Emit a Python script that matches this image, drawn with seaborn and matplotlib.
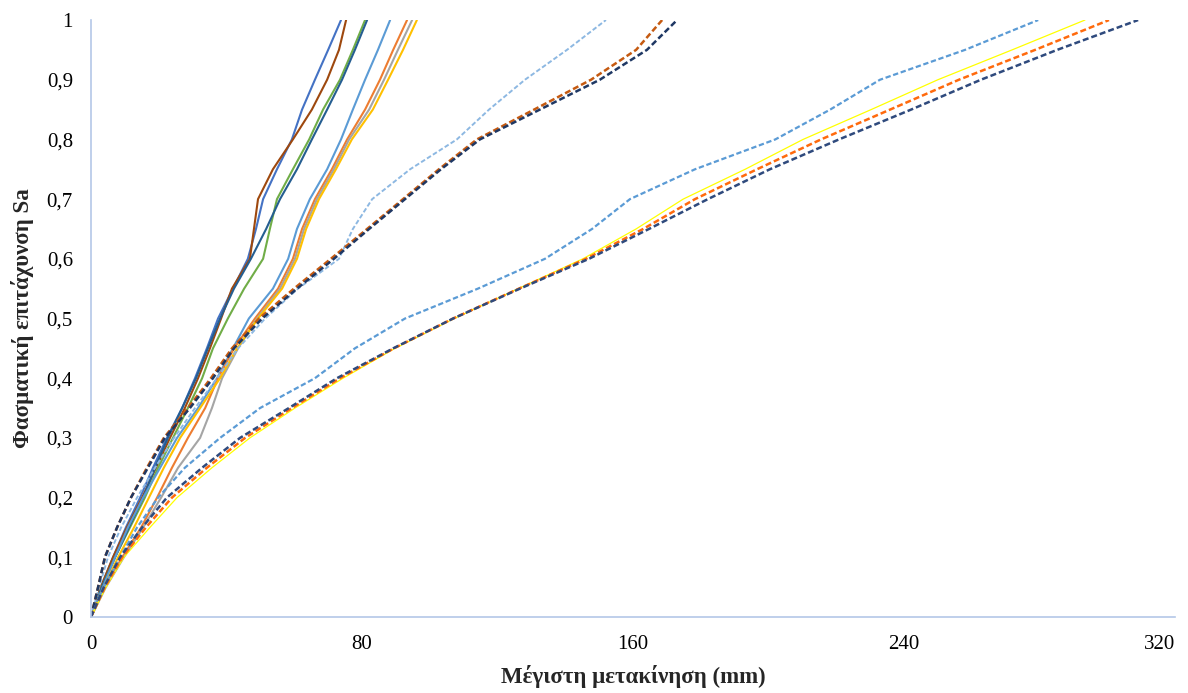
import numpy as np
import pandas as pd
import matplotlib
matplotlib.use("Agg")
import matplotlib.pyplot as plt
import matplotlib.transforms as mtransforms
from matplotlib.ticker import FixedLocator, FuncFormatter
import seaborn as sns

# Spectral acceleration levels (g) shared by every pushover / IDA curve
sa = [0.00, 0.05, 0.10, 0.15, 0.20, 0.25, 0.30, 0.35, 0.40, 0.45, 0.50,
      0.55, 0.60, 0.65, 0.70, 0.75, 0.80, 0.85, 0.90, 0.95, 1.00]

# Maximum displacement (mm) for each curve at the Sa levels above
disp_blue = [0, 2.9, 6.5, 10.3, 14.5, 18.3, 22.4, 26.9, 30.7, 34.2, 37.5,
             41.9, 46.3, 48.7, 50.8, 54.9, 59.3, 62.3, 66.1, 70.0, 73.8]
disp_brown = [0, 2.9, 6.5, 10.6, 15.1, 19.2, 23.3, 27.7, 31.6, 35.1, 38.4,
              41.6, 46.9, 48.1, 49.3, 53.7, 59.6, 65.2, 69.7, 73.2, 75.3]
disp_green = [0, 3.2, 7.1, 11.5, 15.9, 19.8, 24.2, 28.6, 32.8, 36.0, 40.4,
              45.2, 50.8, 52.8, 54.9, 59.6, 64.4, 68.5, 73.5, 77.3, 80.9]
disp_darkblue = [0, 3.2, 7.1, 11.2, 15.4, 18.9, 22.7, 26.9, 31.0, 34.5, 38.1,
                 42.2, 47.2, 51.7, 55.8, 60.8, 65.2, 69.7, 74.1, 77.9, 81.5]
disp_lightblue = [0, 3.5, 7.1, 10.9, 15.4, 20.4, 25.4, 31.6, 37.2, 41.9, 46.6,
                  53.7, 58.2, 60.8, 64.6, 69.7, 73.8, 77.3, 80.9, 84.7, 88.3]
disp_orange = [0, 4.1, 9.2, 14.8, 19.5, 23.9, 28.6, 33.7, 37.5, 42.2, 48.4,
               55.2, 59.6, 62.3, 66.1, 71.1, 75.6, 80.9, 85.3, 89.2, 93.3]
disp_gray = [0, 4.4, 9.7, 15.4, 20.7, 25.7, 32.2, 35.7, 38.7, 43.4, 49.0,
             55.8, 60.2, 62.9, 66.7, 71.7, 76.2, 82.1, 86.5, 90.6, 94.8]
disp_gold = [0, 3.8, 8.0, 12.7, 17.1, 21.5, 26.3, 32.2, 38.1, 43.1, 49.3,
             56.4, 60.8, 63.5, 67.3, 72.3, 77.0, 83.2, 87.7, 92.1, 96.2]

disp_mid_lightblue = [0, 2.4, 5.0, 8.9, 13.6, 18.9, 24.5, 30.7, 37.2, 43.4, 51.4,
                      61.1, 73.2, 77.3, 83.0, 94.2, 108.0, 117.5, 128.1, 140.5, 152.0]
disp_mid_orange = [0, 2.1, 4.1, 7.7, 11.8, 16.5, 21.5, 28.6, 35.4, 41.6, 49.6,
                   59.9, 70.8, 81.5, 92.1, 102.7, 113.9, 130.8, 147.6, 160.9, 168.6]
disp_mid_navy = [0, 2.1, 4.1, 7.7, 11.8, 16.8, 21.8, 29.2, 36.0, 42.2, 50.5,
                 60.8, 71.7, 82.1, 92.7, 103.3, 114.8, 132.5, 150.2, 164.1, 173.0]

disp_far_lightblue = [0, 3.8, 8.6, 13.6, 19.8, 27.7, 38.1, 49.9, 66.1, 77.9, 92.7,
                      114.2, 134.0, 147.9, 159.1, 178.3, 202.0, 218.2, 232.9, 258.0, 279.6]
disp_far_yellow = [0, 4.4, 9.7, 17.4, 25.4, 35.7, 46.9, 60.2, 74.4, 89.7, 107.2,
                   126.1, 145.2, 160.9, 174.8, 193.1, 210.2, 230.3, 250.0, 271.9, 293.4]
disp_far_orange = [0, 4.1, 9.2, 16.2, 23.9, 34.2, 45.5, 59.3, 73.5, 89.4, 106.9,
                   126.3, 146.1, 163.0, 178.3, 196.6, 215.5, 235.9, 256.2, 278.7, 300.5]
disp_far_navy = [0, 3.8, 8.6, 15.1, 22.4, 32.8, 44.0, 58.4, 72.6, 89.2, 106.9,
                 126.6, 147.0, 164.7, 182.1, 200.4, 220.8, 242.1, 262.7, 285.2, 309.1]

x_ticks = [0, 80, 160, 240, 320]
y_ticks = [0.0, 0.1, 0.2, 0.3, 0.4, 0.5, 0.6, 0.7, 0.8, 0.9, 1.0]
x_title = "Μέγιστη μετακίνηση (mm)"
y_title = "Φασματική επιτάχυνση Sa"

# (data, colour, linewidth, linestyle) in drawing order
DASH = (0, (2.4, 1.2))
series = [
    (disp_blue, "#4472C4", 1.5, "-"),
    (disp_brown, "#9E480E", 1.5, "-"),
    (disp_green, "#70AD47", 1.5, "-"),
    (disp_darkblue, "#255E91", 1.5, "-"),
    (disp_lightblue, "#5B9BD5", 1.5, "-"),
    (disp_orange, "#ED7D31", 1.5, "-"),
    (disp_gray, "#A5A5A5", 1.5, "-"),
    (disp_gold, "#FFC000", 1.5, "-"),
    (disp_mid_lightblue, "#8DB8E2", 1.4, DASH),
    (disp_mid_orange, "#C55A11", 1.8, DASH),
    (disp_mid_navy, "#1F3864", 1.8, DASH),
    (disp_far_lightblue, "#5B9BD5", 1.6, DASH),
    (disp_far_yellow, "#FFFF00", 0.9, "-"),
    (disp_far_orange, "#FF6A0D", 1.8, DASH),
    (disp_far_navy, "#2F4A7D", 1.8, DASH),
]

sns.set_theme(style="white")
plt.rcParams["font.family"] = ["Liberation Serif", "DejaVu Serif"]

fig = plt.figure(figsize=(11.88, 6.93), dpi=100)
ax = fig.add_axes([0.0766, 0.1097, 0.9125, 0.8614])

for disp, color, lw, ls in series:
    df = pd.DataFrame({"disp": disp, "sa": sa})
    sns.lineplot(data=df, x="disp", y="sa", ax=ax, color=color, linewidth=lw,
                 linestyle=ls, sort=False, estimator=None, legend=False)

ax.set_xlim(0, 320)
ax.set_ylim(0, 1)
ax.xaxis.set_major_locator(FixedLocator(x_ticks))
ax.yaxis.set_major_locator(FixedLocator(y_ticks))
ax.xaxis.set_major_formatter(FuncFormatter(lambda v, p: f"{v:g}"))
ax.yaxis.set_major_formatter(FuncFormatter(lambda v, p: f"{v:g}".replace(".", ",")))
ax.tick_params(axis="both", length=0, labelsize=15, colors="#000000")
ax.tick_params(axis="y", pad=13)
ax.tick_params(axis="x", pad=13)

for side in ("top", "right"):
    ax.spines[side].set_visible(False)
for side in ("left", "bottom"):
    ax.spines[side].set_color("#B4C7E7")
    ax.spines[side].set_linewidth(1.2)

ax.set_xlabel(x_title, fontsize=16.5, fontweight="bold", labelpad=8)
ax.set_ylabel(y_title, fontsize=16.5, fontweight="bold", labelpad=9)
ax.grid(False)

# keep the last x tick label inside the figure
last = ax.get_xticklabels()[-1]
last.set_transform(last.get_transform() +
                   mtransforms.ScaledTranslation(-15 / 100, 0, fig.dpi_scale_trans))

fig.savefig("out.png", dpi=100, facecolor="white")
